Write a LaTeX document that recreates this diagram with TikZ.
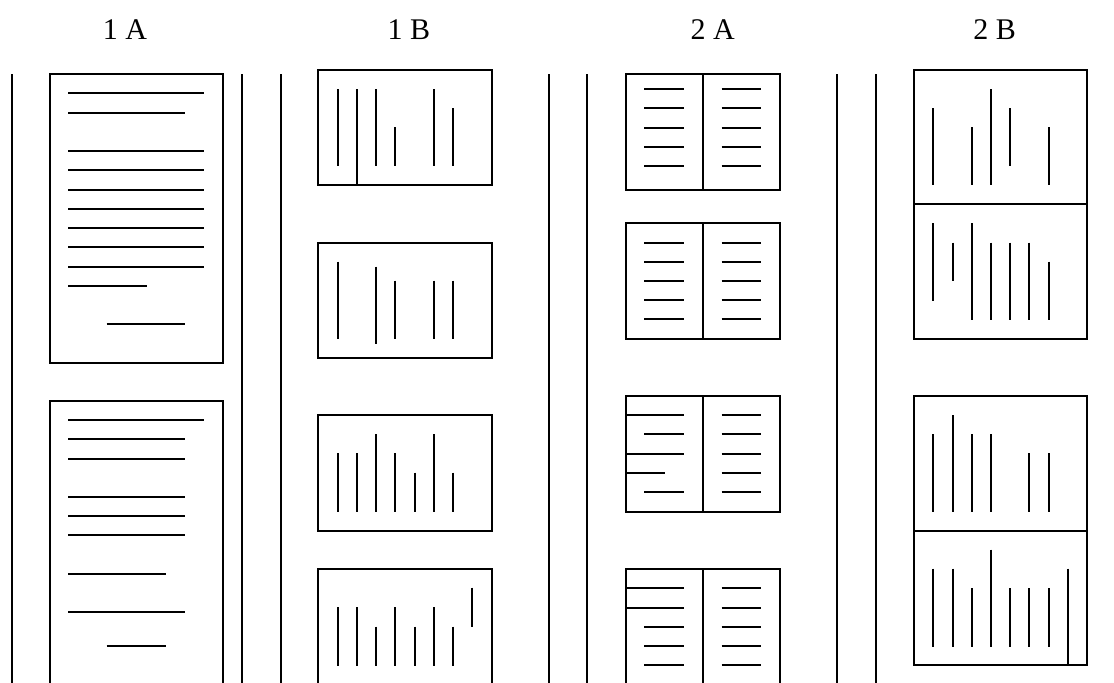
\documentclass[tikz,border=0pt]{standalone}
\usepackage{fontspec}
\setmainfont{Liberation Serif}
\begin{document}
\begin{tikzpicture}[x=0.5pt,y=-0.5pt,
  frame/.style={draw=black,line width=1pt},
  stroke/.style={draw=black,line width=1pt},
  sep/.style={draw=black,line width=1pt},
  lbl/.style={font=\fontsize{15pt}{18pt}\selectfont,anchor=base,inner sep=0pt}]
\useasboundingbox (0,0) rectangle (1114,682);
\clip (0,0) rectangle (1114,682);
% labels
\node[lbl] (l1a) at (125,39.5) {1 A};
\node[lbl] (l1b) at (409,39.5) {1 B};
\node[lbl] (l2a) at (712.7,39.5) {2 A};
\node[lbl] (l2b) at (994.7,39.5) {2 B};
% separators
\foreach \x in {12,241.7,280.7,549,587.3,837,875.7}
  \draw[sep] (\x,74.3) -- (\x,690);
% ---------- 1 A ----------
\draw[frame] (50,74.3) rectangle (222.7,362.7);
\foreach \y/\a/\b in {93.3/68.3/204.3, 112.7/68.3/185, 151/68.3/204.3, 170.3/68.3/204.3,
  189.7/68.3/204.3, 208.7/68.3/204.3, 228/68.3/204.3, 247.3/68.3/204.3, 266.7/68.3/204.3,
  286/68.3/146.7, 324.3/106.7/185}
  \draw[stroke] (\a,\y) -- (\b,\y);
\draw[frame] (50,700) -- (50,400.7) -- (222.7,400.7) -- (222.7,700);
\foreach \y/\a/\b in {420.3/68.3/204.3, 439.3/68.3/185, 458.7/68.3/185, 497/68.3/185,
  516.3/68.3/185, 535.3/68.3/185, 573.7/68.3/166, 612/68.3/185, 646/106.7/166}
  \draw[stroke] (\a,\y) -- (\b,\y);
% ---------- 1 B ----------
\draw[frame] (318.3,69.7) rectangle (491.7,185.3);
\foreach \x/\a/\b in {338/89/166.3, 357.3/89/185.3, 376.3/89/166.3, 395.3/127.3/166.3,
  434/89/166.3, 453/108.3/166.3}
  \draw[stroke] (\x,\a) -- (\x,\b);
\draw[frame] (318.3,242.7) rectangle (491.7,357.7);
\foreach \x/\a/\b in {338/261.7/339, 376.3/266.7/344, 395.3/280.7/339,
  434/280.7/339, 453/280.7/339}
  \draw[stroke] (\x,\a) -- (\x,\b);
\draw[frame] (318.3,415) rectangle (491.7,530.7);
\foreach \x/\a/\b in {338/453.3/511.7, 357.3/453.3/511.7, 376.3/434/511.7, 395.3/453.3/511.7,
  414.7/472.7/511.7, 434/434/511.7, 453/472.7/511.7}
  \draw[stroke] (\x,\a) -- (\x,\b);
\draw[frame] (318.3,700) -- (318.3,569) -- (491.7,569) -- (491.7,700);
\foreach \x/\a/\b in {338/607.3/665.7, 357.3/607.3/665.7, 376.3/626.7/665.7, 395.3/607.3/665.7,
  414.7/626.7/665.7, 434/607.3/665.7, 453/626.7/665.7, 472.3/587.7/627.3}
  \draw[stroke] (\x,\a) -- (\x,\b);
% ---------- 2 A ----------
\draw[frame] (626,74.3) rectangle (780,190);
\draw[frame] (702.7,74.3) -- (702.7,190);
\foreach \y in {89,108.3,127.7,147,166.3}{
  \draw[stroke] (644.3,\y) -- (684.3,\y);
  \draw[stroke] (721.7,\y) -- (761,\y);}
\draw[frame] (626,223.3) rectangle (780,339);
\draw[frame] (702.7,223.3) -- (702.7,339);
\foreach \y in {242.7,261.7,281,300,319.3}{
  \draw[stroke] (644.3,\y) -- (684.3,\y);
  \draw[stroke] (721.7,\y) -- (761,\y);}
\draw[frame] (626,395.7) rectangle (780,511.7);
\draw[frame] (702.7,395.7) -- (702.7,511.7);
\foreach \y/\a/\b in {415/626/684.3, 434.3/644.3/684.3, 453.7/626/684.3, 473/626/665, 492.3/644.3/684.3}{
  \draw[stroke] (\a,\y) -- (\b,\y);
  \draw[stroke] (721.7,\y) -- (761,\y);}
\draw[frame] (626,700) -- (626,569) -- (780,569) -- (780,700);
\draw[frame] (702.7,569) -- (702.7,700);
\foreach \y/\a/\b in {588.3/626/684.3, 607.7/626/684.3, 626.7/644.3/684.3, 646/644.3/684.3, 665/644.3/684.3}{
  \draw[stroke] (\a,\y) -- (\b,\y);
  \draw[stroke] (721.7,\y) -- (761,\y);}
% ---------- 2 B ----------
\draw[frame] (914,69.7) rectangle (1086.7,338.7);
\draw[frame] (914,204.3) -- (1086.7,204.3);
\foreach \x/\a/\b in {933.3/108.3/185.3, 972/127.3/185.3, 991/89/185.3, 1010/108.3/166.3,
  1048.7/127.3/185.3,
  933.3/223.3/300.7, 952.5/242.7/281.3, 972/223.3/319.7, 991/242.7/319.7, 1010/242.7/319.7,
  1029.3/242.7/319.7, 1048.7/261.7/319.7}
  \draw[stroke] (\x,\a) -- (\x,\b);
\draw[frame] (914,395.7) rectangle (1086.7,665);
\draw[frame] (914,530.7) -- (1086.7,530.7);
\foreach \x/\a/\b in {933.3/434.3/512, 952.5/415/512, 972/434.3/512, 991/434.3/512,
  1029.3/453.3/512, 1048.7/453.3/512,
  933.3/568.7/646.7, 952.5/568.7/646.7, 972/588/646.7, 991/549.7/646.7, 1010/588/646.7,
  1029.3/588/646.7, 1048.7/588/646.7, 1068/568.7/665}
  \draw[stroke] (\x,\a) -- (\x,\b);
\end{tikzpicture}
\end{document}
